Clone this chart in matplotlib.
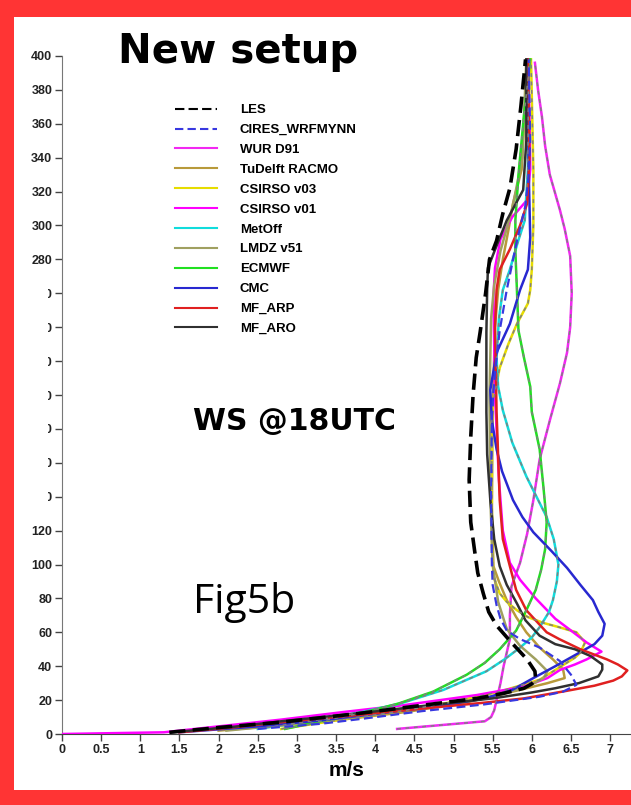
import matplotlib
matplotlib.use("Agg")
import matplotlib.pyplot as plt
from matplotlib.patches import Rectangle

# wind speed profiles at 18 UTC: (speed m/s, height m)
les_ws = [1.37, 2.04, 2.81, 3.84, 4.36, 4.87, 5.3, 5.64, 5.9, 6.0, 6.05, 6.04, 5.94, 5.82, 5.72, 5.55, 5.45, 5.38, 5.31, 5.27, 5.22, 5.20, 5.22, 5.25, 5.29, 5.34, 5.41, 5.46, 5.55, 5.63, 5.72, 5.80, 5.86, 5.92]
les_z = [1, 4, 7, 12.4, 15.5, 18.5, 21, 24, 27, 29.6, 32, 37, 44, 50, 55, 64, 72, 83, 95, 108, 125, 150, 175, 200, 222, 237, 260, 280, 291, 307, 322, 345, 370, 398]

cires_ws = [2.5, 3.3, 3.84, 4.6, 5.4, 6.1, 6.4, 6.57, 6.5, 6.36, 6.1, 5.85, 5.68, 5.6, 5.55, 5.5, 5.49, 5.48, 5.49, 5.51, 5.55, 5.59, 5.68, 5.81, 5.92, 5.96, 5.98, 5.96]
cires_z = [3, 6, 9, 13.5, 17.5, 22, 25, 29, 35, 43, 51, 56, 61, 68, 76, 88, 100, 138, 185, 203, 222, 238, 262, 291, 312, 330, 350, 398]

wur_ws = [4.28, 5.40, 5.48, 5.52, 5.55, 5.6, 5.64, 5.68, 5.72, 5.72, 5.74, 5.85, 5.94, 6.02, 6.10, 6.23, 6.36, 6.45, 6.49, 6.51, 6.49, 6.42, 6.36, 6.23, 6.17, 6.13, 6.08, 6.04]
wur_z = [3, 7.5, 10, 14, 20, 30, 40, 48, 56, 70, 87, 101, 118, 138, 162, 185, 207, 225, 240, 260, 282, 298, 309, 330, 347, 364, 380, 396]

racmo_ws = [2.0, 3.3, 4.4, 5.2, 5.8, 6.2, 6.42, 6.40, 6.27, 6.1, 5.93, 5.8, 5.68, 5.58, 5.51, 5.49, 5.50, 5.53, 5.57, 5.63, 5.7, 5.76, 5.87, 5.94]
racmo_z = [2, 7, 13, 19, 25.5, 30, 33, 38, 44, 51, 60, 69, 79, 90, 99, 134, 190, 240, 262, 280, 297, 313, 333, 398]

csv03_ws = [2.8, 3.5, 4.4, 5.0, 5.59, 6.1, 6.36, 6.55, 6.62, 6.68, 6.57, 6.35, 6.15, 5.95, 5.81, 5.68, 5.59, 5.51, 5.49, 5.49, 5.49, 5.51, 5.59, 5.7, 5.81, 5.95, 5.98, 6.0, 6.02, 6.02, 5.99]
csv03_z = [3, 8, 14, 19, 25, 32, 39.5, 45, 48, 54, 60, 63, 65.5, 69, 73, 78, 83, 93, 115, 138, 185, 197, 216, 230, 242, 254, 262, 274, 300, 333, 398]

csv01_ws = [0, 1.3, 1.8, 2.8, 3.6, 4.36, 5.3, 5.9, 6.2, 6.36, 6.55, 6.7, 6.89, 6.7, 6.53, 6.3, 6.05, 5.85, 5.72, 5.63, 5.58, 5.53, 5.51, 5.53, 5.6, 5.75, 5.94, 5.98, 5.97, 5.95]
csv01_z = [0, 1, 3.5, 8.5, 13, 17, 23, 28, 33, 37.8, 41, 44, 48.6, 54, 60, 68, 80, 91, 101, 120, 150, 200, 258, 275, 292, 305, 315, 333, 365, 398]

metoff_ws = [2.5, 3.3, 3.84, 4.32, 4.87, 5.42, 5.65, 5.85, 6.0, 6.10, 6.22, 6.27, 6.32, 6.34, 6.28, 6.19, 5.93, 5.75, 5.63, 5.57, 5.55, 5.58, 5.63, 5.72, 5.82, 5.91, 5.95, 5.96]
metoff_z = [3, 8.5, 13, 18, 26, 37, 44, 51, 57, 63, 72, 79, 90, 100, 115, 128, 152, 172, 191, 205, 222, 245, 262, 274, 290, 303, 333, 398]

lmdz_ws = [2.1, 3.1, 4.0, 4.8, 5.5, 5.95, 6.15, 6.2, 6.05, 5.85, 5.68, 5.57, 5.50, 5.47, 5.46, 5.48, 5.52, 5.6, 5.75, 5.88, 5.93]
lmdz_z = [2, 6.5, 11.5, 16.5, 22, 28, 33, 37, 44, 52, 62, 78, 100, 140, 200, 245, 265, 285, 310, 340, 398]

ecmwf_ws = [2.85, 3.3, 3.84, 4.3, 4.74, 5.17, 5.4, 5.59, 5.8, 5.93, 6.05, 6.12, 6.17, 6.19, 6.15, 6.10, 6.0, 5.98, 5.9, 5.83, 5.81, 5.79, 5.79, 5.83, 5.9, 5.98]
ecmwf_z = [3, 7.5, 12.5, 18, 25, 35, 42, 50, 61, 73, 85, 97, 109, 125, 145, 168, 190, 205, 222, 238, 262, 285, 303, 330, 365, 398]

cmc_ws = [1.5, 2.5, 3.3, 4.1, 4.9, 5.4, 5.75, 6.02, 6.3, 6.57, 6.8, 6.9, 6.93, 6.85, 6.78, 6.62, 6.45, 6.25, 6.02, 5.88, 5.76, 5.62, 5.55, 5.49, 5.47, 5.55, 5.72, 5.85, 5.95, 5.98, 5.96, 5.95]
cmc_z = [1, 4.5, 8, 12.5, 17, 21, 26, 33, 40, 47, 53, 58, 65, 72, 79, 88, 98, 108, 119, 128, 138, 155, 168, 185, 203, 225, 242, 262, 274, 293, 333, 398]

arp_ws = [1.5, 2.2, 2.81, 3.84, 4.6, 5.4, 5.9, 6.45, 6.8, 7.04, 7.15, 7.22, 7.1, 6.96, 6.62, 6.35, 6.19, 5.93, 5.8, 5.72, 5.63, 5.59, 5.55, 5.53, 5.55, 5.59, 5.72, 5.85, 5.94, 5.97, 5.95]
arp_z = [1, 4, 7, 11.5, 15, 18.5, 21, 25.5, 28.5, 31.5, 34, 37.5, 41, 44, 50, 56, 60, 73, 85, 99, 115, 138, 190, 240, 262, 274, 286, 300, 313, 340, 398]

aro_ws = [1.4, 2.2, 2.8, 3.84, 4.6, 5.5, 6.0, 6.3, 6.6, 6.85, 6.9, 6.9, 6.75, 6.55, 6.3, 6.10, 5.92, 5.81, 5.68, 5.59, 5.52, 5.47, 5.43, 5.42, 5.42, 5.43, 5.44, 5.55, 5.68, 5.89, 5.93, 5.93]
aro_z = [1, 4.3, 7.5, 12.5, 16.5, 21, 24.5, 27, 30, 34, 38, 41, 46, 50, 53, 58, 67, 77, 88, 99, 115, 138, 165, 190, 237, 262, 275, 288, 303, 321, 350, 398]

labels = ["LES", "CIRES_WRFMYNN", "WUR D91", "TuDelft RACMO", "CSIRSO v03", "CSIRSO v01",
          "MetOff", "LMDZ v51", "ECMWF", "CMC", "MF_ARP", "MF_ARO"]
colors = ["#000000", "#3838e0", "#f228f2", "#b89a3a", "#e6dc00", "#ff00ff",
          "#10dcdc", "#a0a060", "#20e020", "#2828d0", "#e02020", "#303030"]
profiles = [(les_ws, les_z), (cires_ws, cires_z), (wur_ws, wur_z), (racmo_ws, racmo_z),
            (csv03_ws, csv03_z), (csv01_ws, csv01_z), (metoff_ws, metoff_z), (lmdz_ws, lmdz_z),
            (ecmwf_ws, ecmwf_z), (cmc_ws, cmc_z), (arp_ws, arp_z), (aro_ws, aro_z)]
# curves that get the grey dashes drawn over them
grey_overlay = {"WUR D91", "CSIRSO v03", "MetOff", "ECMWF"}

W, H = 631, 805
fig = plt.figure(figsize=(W / 100, H / 100), dpi=100)
fig.patch.set_facecolor("#ff3434")
fig.add_artist(Rectangle((14 / W, 1 - 790 / H), (W - 14) / W, (790 - 17) / H,
                         transform=fig.transFigure, facecolor="white", edgecolor="none", zorder=-5))

ax = fig.add_axes([62 / W, 1 - 734 / H, (W - 62) / W, 678 / H])
ax.set_facecolor("none")

handles = []
for name, col, (ws, z) in zip(labels, colors, profiles):
    if name == "LES":
        h, = ax.plot(ws, z, color=col, lw=2.6, dashes=(4.5, 2), zorder=5, label=name)
    elif name == "CIRES_WRFMYNN":
        h, = ax.plot(ws, z, color=col, lw=1.6, dashes=(4, 2), zorder=4, label=name)
    else:
        h, = ax.plot(ws, z, color=col, lw=1.8, zorder=3, label=name)
        if name in grey_overlay:
            ax.plot(ws, z, color="#808080", lw=1.1, dashes=(2.5, 3), zorder=3.5)
    handles.append(h)

ax.set_xlim(0, (W - 62) / 78.3)
ax.set_ylim(0, 400)
ax.set_xticks([0, 0.5, 1, 1.5, 2, 2.5, 3, 3.5, 4, 4.5, 5, 5.5, 6, 6.5, 7])
ax.set_xticklabels(["0", "0.5", "1", "1.5", "2", "2.5", "3", "3.5", "4", "4.5", "5", "5.5", "6", "6.5", "7"])
ax.set_yticks(range(0, 401, 20))
for sp in ("top", "right"):
    ax.spines[sp].set_visible(False)
ax.spines["left"].set_color("#777777")
ax.spines["left"].set_linestyle((0, (1, 1)))
ax.spines["bottom"].set_color("#444444")
ax.tick_params(direction="out", length=5, width=1, color="#444444", pad=2)
for t in ax.get_xticklabels() + ax.get_yticklabels():
    t.set_fontfamily(["Liberation Sans Narrow", "Liberation Sans"])
    t.set_fontweight("bold")
    t.set_fontsize(9)
    t.set_color("#222222")
ax.set_xlabel("m/s", fontsize=15, fontweight="bold", family="Liberation Sans", labelpad=4)

leg = ax.legend(handles=handles, loc="upper left", bbox_to_anchor=(175 / W, 1 - 104 / H),
                bbox_transform=fig.transFigure, frameon=False, borderpad=0, borderaxespad=0,
                handlelength=3.2, handletextpad=1.7, labelspacing=0.58,
                prop={"family": "Liberation Sans", "weight": "bold", "size": 9.5})
for line in leg.get_lines():
    line.set_linewidth(1.5)

# white patch hiding part of the height labels
fig.add_artist(Rectangle((14 / W, 1 - 507 / H), 34 / W, 222 / H, transform=fig.transFigure,
                         facecolor="white", edgecolor="none", zorder=10))

fig.text(118 / W, 1 - 52 / H, "New setup", fontsize=29, fontweight="bold",
         family="DejaVu Sans", ha="left", va="center")
fig.text(294 / W, 1 - 421 / H, "WS @18UTC", fontsize=21.5, fontweight="bold",
         family="DejaVu Sans", ha="center", va="center")
fig.text(193 / W, 1 - 613 / H, "Fig5b", fontsize=29.5, family="Open Sans",
         ha="left", va="baseline")

fig.savefig("out.png", dpi=100, facecolor=fig.get_facecolor())
